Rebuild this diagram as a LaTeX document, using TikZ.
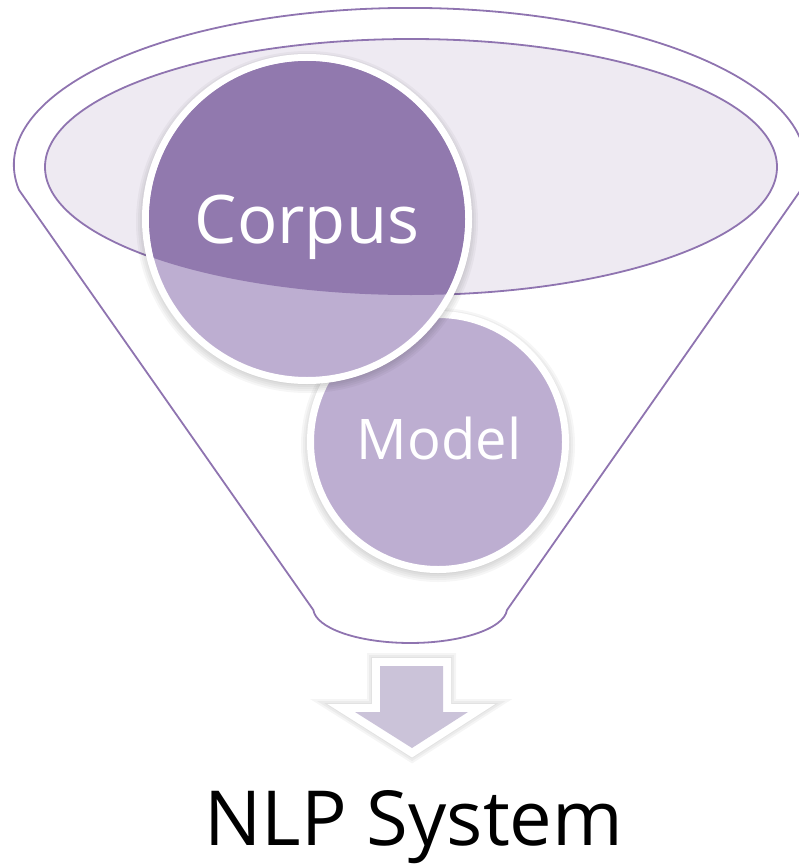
\documentclass[tikz,border=0pt]{standalone}
\usepackage{fontspec}
\setmainfont{Open Sans}

\definecolor{funnelline}{HTML}{8F74B0}
\definecolor{rimfill}{HTML}{EEEAF2}
\definecolor{deepfill}{HTML}{9179AE}
\definecolor{softfill}{HTML}{BDAED1}
\definecolor{arrowfill}{HTML}{CBC3D9}

\tikzset{
  funnel/.style={draw=funnelline, line width=1.8pt, line join=round},
  rim/.style={draw=funnelline, fill=rimfill, line width=1.8pt},
  haze/.style={fill=black, opacity=0.035},
  bubble/.style={circle, inner sep=0pt, fill=softfill, draw=white, line width=7pt},
  bubbletext/.style={text=white, anchor=base, inner sep=0pt},
}

% soft shadow under a disc: centre, outer radius
\newcommand\discshadow[2]{%
  \foreach \g in {-2,0,2,4,6}{%
    \fill[haze] ($#1+(0,3)$) circle[radius=#2+\g];
  }%
}

\usetikzlibrary{calc}

\begin{document}
\begin{tikzpicture}[x=1pt, y=-1pt]
  \useasboundingbox (0,0) rectangle (798,864);

  % funnel outline: rim arc, converging sides, rounded spout
  \draw[funnel] (19,190)
    arc[start angle=170.8, end angle=369.2, x radius=396, y radius=157]
    -- (507,610)
    arc[start angle=3.3, end angle=176.7, x radius=97, y radius=35]
    -- cycle;

  % mouth of the funnel
  \coordinate (mouth) at (411,167);
  \draw[rim] (mouth) ellipse[x radius=366, y radius=128];

  % lower bubble
  \coordinate (mc) at (438,442);
  \discshadow{(mc)}{131}
  \node[bubble, minimum size=255pt] (model) at (mc) {};
  \node[bubbletext, font=\fontsize{56}{60}\selectfont] (modeltext) at (439,459) {Model};

  % upper bubble, darker where it sits inside the mouth
  \coordinate (cc) at (307,219);
  \discshadow{(cc)}{165}
  \node[bubble, minimum size=323pt] (corpus) at (cc) {};
  \begin{scope}
    \clip (mouth) ellipse[x radius=366, y radius=128];
    \fill[deepfill] (corpus.center) circle[radius=158];
  \end{scope}
  \node[bubbletext, font=\fontsize{67}{72}\selectfont] (corpustext) at (307,243) {Corpus};

  % output arrow
  \coordinate (a1) at (380,666);
  \coordinate (a2) at (443,666);
  \coordinate (a3) at (443,712);
  \coordinate (a4) at (468,712);
  \coordinate (a5) at (412,748);
  \coordinate (a6) at (355,712);
  \coordinate (a7) at (380,712);
  \begin{scope}[shift={(0,3)}]
    \foreach \w in {14,18,22,26}{
      \draw[black, opacity=0.04, line width=\w pt, line join=miter]
        (a1) -- (a2) -- (a3) -- (a4) -- (a5) -- (a6) -- (a7) -- cycle;
    }
  \end{scope}
  \draw[white, fill=white, line width=16pt, line join=miter]
    (a1) -- (a2) -- (a3) -- (a4) -- (a5) -- (a6) -- (a7) -- cycle;
  \fill[arrowfill]
    (a1) -- (a2) -- (a3) -- (a4) -- (a5) -- (a6) -- (a7) -- cycle;

  % result
  \node[anchor=base, inner sep=0pt, font=\fontsize{76}{80}\selectfont] (result) at (414,845) {NLP System};
\end{tikzpicture}
\end{document}
